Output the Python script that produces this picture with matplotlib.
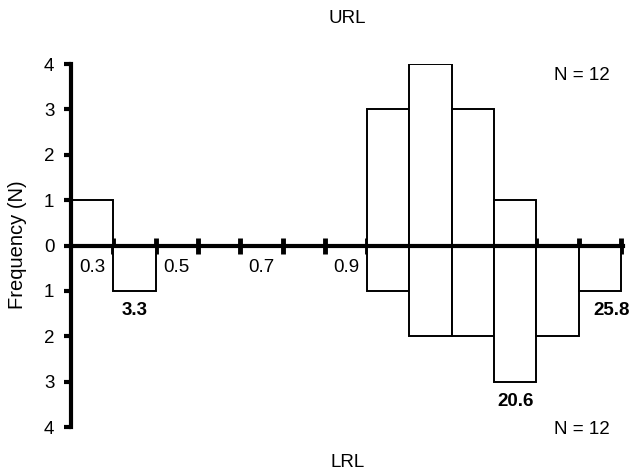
import matplotlib
matplotlib.use("Agg")
import matplotlib.pyplot as plt
import numpy as np

plt.rcParams['font.family'] = ['Liberation Sans', 'DejaVu Sans']

# bin centres (mm) and counts for both groups
bin_centers = [0.3, 0.4, 0.5, 0.6, 0.7, 0.8, 0.9, 1.0, 1.1, 1.2, 1.3, 1.4, 1.5]
url_counts = [1, 0, 0, 0, 0, 0, 0, 3, 4, 3, 1, 0, 0]
lrl_counts = [0, 1, 0, 0, 0, 0, 0, 1, 2, 2, 3, 2, 1]
tick_labels = ['0.3', '0.5', '0.7', '0.9', '1.1', '1.3', '1.5']
# bold numbers under selected LRL bins
notes = {0.4: '3.3', 1.3: '20.6', 1.5: '25.8'}
n_url = 12
n_lrl = 12

fig = plt.figure(figsize=(6.33, 4.72), dpi=100)
ax = fig.add_axes([0.1122, 0.0953, 0.872, 0.769])

width = 0.1
for c, u, l in zip(bin_centers, url_counts, lrl_counts):
    if u > 0:
        ax.bar(c, u, width=width, color='white', edgecolor='black', linewidth=1.4, zorder=2)
    if l > 0:
        ax.bar(c, -l, width=width, color='white', edgecolor='black', linewidth=1.4, zorder=2)

for c, txt in notes.items():
    l = lrl_counts[bin_centers.index(c)]
    dx = 0.028 if c == bin_centers[-1] else 0.0  # last label sits a bit right
    ax.text(c + dx, -l - 0.25, txt, ha='center', va='top', fontsize=13.5,
            fontweight='bold', clip_on=False)

ax.set_xlim(0.25, 1.555)
ax.set_ylim(-4, 4)

for s in ['top', 'right']:
    ax.spines[s].set_visible(False)
ax.spines['left'].set_linewidth(3)
ax.spines['bottom'].set_position(('data', 0))
ax.spines['bottom'].set_linewidth(3)
ax.spines['bottom'].set_zorder(3)

ax.set_yticks(range(-4, 5))
ax.set_yticklabels([str(abs(v)) for v in range(-4, 5)], fontsize=13.5)
ax.tick_params(axis='y', length=5, width=3, direction='out', pad=7)

edges = np.round(np.arange(0.35, 1.56, 0.1), 2)
ax.set_xticks(edges)
ax.set_xticklabels([])
ax.tick_params(axis='x', which='major', length=11, width=3.5, direction='inout')
ax.set_xticks([float(t) for t in tick_labels], minor=True)
ax.set_xticklabels(tick_labels, minor=True, fontsize=13.5)
ax.tick_params(axis='x', which='minor', length=0, pad=10)

fig.text(18 / 633, 1 - 245 / 472, 'Frequency (N)', rotation=90, ha='center',
         va='center', fontsize=14.5)
ax.text(1.457, 3.75, f'N = {n_url}', ha='center', va='center', fontsize=13.5)
ax.text(1.457, -4.06, f'N = {n_lrl}', ha='center', va='center', fontsize=13.5,
        clip_on=False)

fig.text(0.549, 0.960, 'URL', ha='center', va='center', fontsize=13.5)
fig.text(0.549, 0.021, 'LRL', ha='center', va='center', fontsize=13.5)

fig.savefig('out.png', dpi=100)
